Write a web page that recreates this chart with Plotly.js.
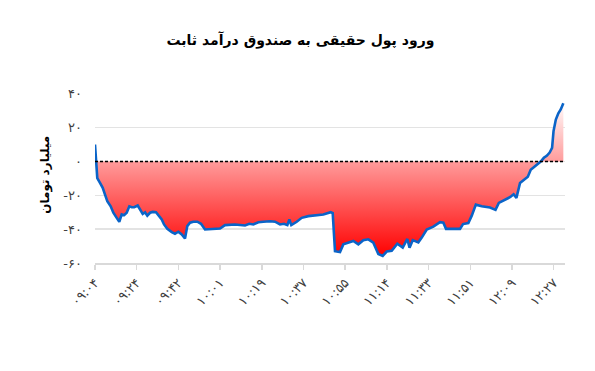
<!DOCTYPE html>
<html>
<head>
<meta charset="utf-8">
<script src="https://cdn.plot.ly/plotly-3.0.1.min.js"></script>
<style>html,body{margin:0;padding:0;background:#fff;}#chart{width:595px;height:371px;}</style>
</head>
<body>
<div id="chart"></div>
<script>
// Category tick labels (time of day, Persian digits)
const timeLabels = ["۰۹:۰۴","۰۹:۲۴","۰۹:۴۲","۱۰:۰۱","۱۰:۱۹","۱۰:۳۷","۱۰:۵۵","۱۱:۱۴","۱۱:۳۳","۱۱:۵۱","۱۲:۰۹","۱۲:۲۷"];
const timeTickPos = [0,1,2,3,4,5,6,7,8,9,10,11];

// Y tick values / labels
const yTickVals = [-60,-40,-20,0,20,40];
const yTickText = ["-۶۰","-۴۰","-۲۰","۰","۲۰","۴۰"];

// Position along the time axis (in tick-interval units) and net inflow (billion toman)
const xIndex = [0,0.02,0.055,0.12,0.185,0.24,0.295,0.376,0.44,0.52,0.583,0.64,0.70,0.76,0.823,0.88,0.94,1.024,1.08,1.144,1.2,1.254,1.32,1.384,1.463,1.518,1.6,1.655,1.734,1.84,1.918,1.998,2.08,2.158,2.213,2.278,2.357,2.453,2.542,2.638,2.758,2.878,2.998,3.118,3.357,3.597,3.70,3.796,3.916,4.036,4.197,4.317,4.436,4.532,4.612,4.66,4.707,4.837,4.957,5.115,5.276,5.475,5.652,5.70,5.755,5.875,5.954,6.115,6.194,6.314,6.434,6.554,6.674,6.794,6.899,6.995,7.115,7.249,7.379,7.489,7.542,7.619,7.753,7.835,7.955,8.113,8.273,8.353,8.417,8.753,8.825,8.952,9.034,9.132,9.273,9.472,9.604,9.683,9.832,9.959,10.038,10.105,10.192,10.288,10.379,10.448,10.528,10.619,10.688,10.763,10.832,10.902,10.96,10.995,11.05,11.11,11.168,11.23];
const netInflow = [10,0,-9.8,-12.7,-15.6,-19.6,-23.5,-26.5,-30.3,-33.3,-35.6,-31.3,-31.7,-30.3,-26.5,-27,-27,-26,-28.4,-31,-30,-32,-30.3,-29.8,-30,-31.7,-34.3,-37.2,-39.8,-41.7,-42.7,-41.5,-43.1,-45.5,-38.2,-36.2,-35.6,-35.6,-36.8,-40.2,-40,-39.6,-39.6,-37.6,-37.2,-37.8,-36.8,-37.2,-35.9,-35.6,-35.3,-35.6,-37.2,-36.8,-37.6,-34.3,-37.6,-35.6,-33.3,-32.3,-32,-31.3,-30,-30.5,-53,-53.5,-49,-47.6,-47,-49,-46.5,-46,-48,-54.7,-55.8,-53.2,-52.8,-48.6,-50.9,-45.8,-51,-46.5,-47.8,-45,-40.2,-38.5,-35.9,-36.2,-39.8,-39.8,-37,-36.4,-32,-25.5,-26.5,-27.2,-28.6,-24.5,-22.7,-21,-19.4,-21.5,-12.7,-10.8,-9,-4.9,-3.4,-1.2,0,2.2,3.4,5.3,8,18,24.8,28.5,30.8,34.5];

const titleText = "ورود پول حقیقی به صندوق درآمد ثابت";
const yTitleText = "میلیارد تومان";

const FONT = "DejaVu Sans, Arial, sans-serif";

const trace = {
  x: xIndex,
  y: netInflow,
  type: 'scatter',
  mode: 'lines',
  line: {color: '#0a64c8', width: 2.6},
  fill: 'tozeroy',
  fillgradient: {
    type: 'vertical',
    start: -56,
    stop: 36,
    colorscale: [[0,'#ff0000'],[1,'#ffffff']]
  },
  hoverinfo: 'skip'
};

const layout = {
  width: 595, height: 371,
  margin: {l: 95, r: 30, t: 93, b: 108},
  paper_bgcolor: '#ffffff',
  plot_bgcolor: '#ffffff',
  showlegend: false,
  font: {family: FONT, color: '#404040', size: 12},
  title: {
    text: '<b>' + titleText + '</b>',
    font: {family: FONT, size: 14, color: '#000000'},
    xref: 'container', x: 0.505, xanchor: 'center',
    yref: 'container', y: 0.892, yanchor: 'middle'
  },
  xaxis: {
    range: [0, 11.27],
    tickvals: timeTickPos,
    ticktext: timeLabels,
    tickangle: -45,
    showgrid: false,
    zeroline: false,
    showline: true,
    linecolor: '#d9d9d9',
    linewidth: 2,
    ticks: 'outside',
    ticklen: 5,
    tickwidth: 1.5,
    tickcolor: '#d9d9d9',
    tickfont: {family: FONT, size: 13, color: '#404040'}
  },
  yaxis: {
    range: [-60, 40.5],
    tickvals: yTickVals,
    ticktext: yTickText,
    showgrid: true,
    gridcolor: '#e3e3e3',
    gridwidth: 1.5,
    zeroline: false,
    showline: false,
    ticks: '',
    ticklabelstandoff: 12,
    tickfont: {family: FONT, size: 13, color: '#404040'}
  },
  shapes: [{
    type: 'line', xref: 'x', yref: 'y',
    x0: 0, x1: 11.27, y0: 0, y1: 0,
    line: {color: '#000000', width: 1.5, dash: '3px,2px'}
  }],
  annotations: [{
    text: '<b>' + yTitleText + '</b>',
    xref: 'paper', yref: 'paper',
    x: -0.106, y: 0.52,
    xanchor: 'center', yanchor: 'middle',
    textangle: -90,
    showarrow: false,
    font: {family: FONT, size: 12, color: '#000000'}
  }]
};

Plotly.newPlot('chart', [trace], layout, {staticPlot: true, displayModeBar: false});
</script>
</body>
</html>
